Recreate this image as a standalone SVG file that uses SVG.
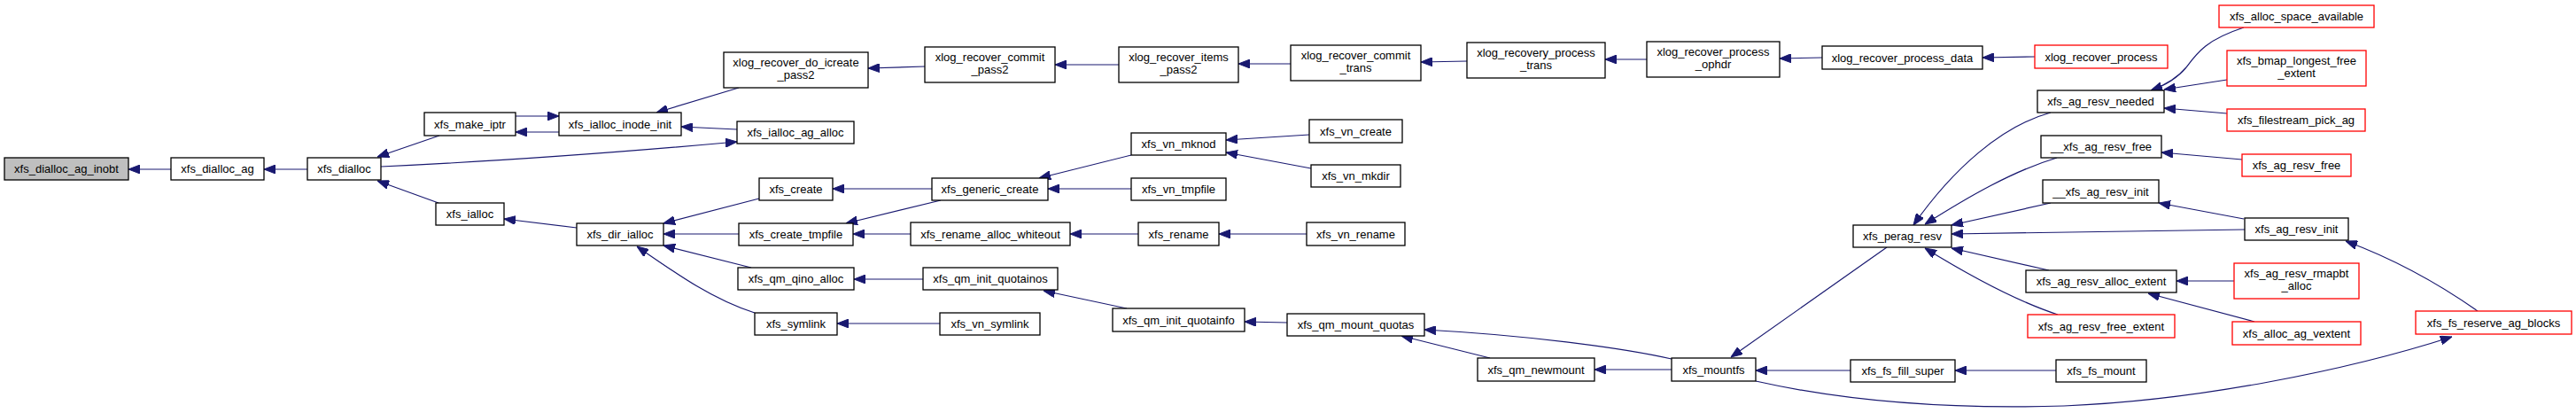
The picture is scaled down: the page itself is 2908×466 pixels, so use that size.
<svg xmlns="http://www.w3.org/2000/svg" width="2908" height="466" viewBox="0 0 2908 466">
<defs>
<marker id="ah" markerUnits="userSpaceOnUse" markerWidth="13" markerHeight="10" refX="13" refY="5" viewBox="0 0 13 10" orient="auto">
<path d="M0,0 L13,5 L0,10 z" fill="#191970" stroke="#191970" stroke-width="1"/>
</marker>
</defs>
<style>
rect{fill:#ffffff;stroke:#000000;stroke-width:1.3}
rect.r{stroke:#ff0000}
rect.g{fill:#bfbfbf}
text{font-family:"Liberation Sans",Arial,sans-serif;font-size:13px;fill:#000000;text-anchor:middle}
#edges path{fill:none;stroke:#191970;stroke-width:1.2;marker-end:url(#ah)}
</style>
<rect x="0" y="0" width="2908" height="466" style="fill:#ffffff;stroke:none"/>
<g id="edges">
<path d="M193,191 L145,191"/>
<path d="M347,191 L298,191"/>
<path d="M496,153 L426,177"/>
<path d="M430,188 C560,182 720,170 832,160"/>
<path d="M495,229 L426,204"/>
<path d="M582,131 L631,131"/>
<path d="M631,149 L582,149"/>
<path d="M834,99 L741,127"/>
<path d="M832,146 L769,143"/>
<path d="M651,257 L569,247"/>
<path d="M857,224 L749,252"/>
<path d="M834,264 L749,264"/>
<path d="M848,302 L749,277"/>
<path d="M852,353 C805,338 765,310 719,278"/>
<path d="M1044,75 L980,77"/>
<path d="M1263,73 L1191,73"/>
<path d="M1457,72 L1398,72"/>
<path d="M1656,69 L1604,70"/>
<path d="M1859,67 L1812,67"/>
<path d="M2057,65 L2009,66"/>
<path d="M2297,64 L2238,65"/>
<path d="M1052,213 L940,213"/>
<path d="M1062,226 L955,252"/>
<path d="M1028,264 L963,264"/>
<path d="M1277,175 L1173,201"/>
<path d="M1277,213 L1183,213"/>
<path d="M1478,152 L1384,158"/>
<path d="M1480,190 L1384,172"/>
<path d="M1285,264 L1208,264"/>
<path d="M1475,264 L1376,264"/>
<path d="M1042,315 L964,315"/>
<path d="M1061,365 L945,365"/>
<path d="M1272,348 L1178,328"/>
<path d="M1453,364 L1405,363"/>
<path d="M1887,405 C1830,392 1720,378 1608,372"/>
<path d="M1682,404 L1582,379"/>
<path d="M1887,417 L1800,417"/>
<path d="M2089,418 L1982,418"/>
<path d="M2321,418 L2207,418"/>
<path d="M2130,279 L1954,403"/>
<path d="M1982,430 C2080,452 2200,462 2330,458 C2480,452 2650,418 2768,380"/>
<path d="M2315,127 C2260,142 2205,190 2160,254"/>
<path d="M2322,178 C2272,193 2222,222 2173,253"/>
<path d="M2315,229 L2203,254"/>
<path d="M2534,259 L2203,264"/>
<path d="M2313,305 L2203,280"/>
<path d="M2323,355 C2280,341 2225,312 2173,280"/>
<path d="M2533,31 C2490,45 2480,60 2468,76 C2458,88 2445,96 2428,102"/>
<path d="M2514,90 L2443,101"/>
<path d="M2514,128 L2443,122"/>
<path d="M2531,180 L2440,172"/>
<path d="M2533,247 L2437,229"/>
<path d="M2797,351 C2760,325 2710,295 2648,272"/>
<path d="M2522,317 L2457,317"/>
<path d="M2545,363 L2425,331"/>
</g>
<g id="n0"><rect class="g" x="5" y="178" width="140" height="25"/><text x="75" y="195">xfs_dialloc_ag_inobt</text></g>
<g id="n1"><rect x="193" y="178" width="105" height="25"/><text x="245.5" y="195">xfs_dialloc_ag</text></g>
<g id="n2"><rect x="347" y="178" width="83" height="25"/><text x="388.5" y="195">xfs_dialloc</text></g>
<g id="n3"><rect x="479" y="127" width="103" height="26"/><text x="530.5" y="144.5">xfs_make_iptr</text></g>
<g id="n4"><rect x="631" y="127" width="138" height="26"/><text x="700" y="144.5">xfs_ialloc_inode_init</text></g>
<g id="n5"><rect x="817" y="59" width="163" height="40"/><text x="898.5" y="75">xlog_recover_do_icreate</text><text x="898.5" y="89">_pass2</text></g>
<g id="n6"><rect x="832" y="137" width="132" height="25"/><text x="898" y="154">xfs_ialloc_ag_alloc</text></g>
<g id="n7"><rect x="492" y="229" width="77" height="25"/><text x="530.5" y="246">xfs_ialloc</text></g>
<g id="n8"><rect x="651" y="252" width="98" height="25"/><text x="700" y="269">xfs_dir_ialloc</text></g>
<g id="n9"><rect x="857" y="201" width="83" height="25"/><text x="898.5" y="218">xfs_create</text></g>
<g id="n10"><rect x="834" y="252" width="129" height="25"/><text x="898.5" y="269">xfs_create_tmpfile</text></g>
<g id="n11"><rect x="833" y="302" width="131" height="25"/><text x="898.5" y="319">xfs_qm_qino_alloc</text></g>
<g id="n12"><rect x="852" y="353" width="93" height="25"/><text x="898.5" y="370">xfs_symlink</text></g>
<g id="n13"><rect x="1044" y="53" width="147" height="40"/><text x="1117.5" y="69">xlog_recover_commit</text><text x="1117.5" y="83">_pass2</text></g>
<g id="n14"><rect x="1263" y="53" width="135" height="40"/><text x="1330.5" y="69">xlog_recover_items</text><text x="1330.5" y="83">_pass2</text></g>
<g id="n15"><rect x="1457" y="51" width="147" height="40"/><text x="1530.5" y="67">xlog_recover_commit</text><text x="1530.5" y="81">_trans</text></g>
<g id="n16"><rect x="1656" y="48" width="156" height="40"/><text x="1734" y="64">xlog_recovery_process</text><text x="1734" y="78">_trans</text></g>
<g id="n17"><rect x="1859" y="47" width="150" height="40"/><text x="1934" y="63">xlog_recover_process</text><text x="1934" y="77">_ophdr</text></g>
<g id="n18"><rect x="2057" y="52" width="181" height="26"/><text x="2147.5" y="69.5">xlog_recover_process_data</text></g>
<g id="n19"><rect class="r" x="2297" y="51" width="150" height="26"/><text x="2372" y="68.5">xlog_recover_process</text></g>
<g id="n20"><rect x="1052" y="201" width="131" height="25"/><text x="1117.5" y="218">xfs_generic_create</text></g>
<g id="n21"><rect x="1277" y="150" width="107" height="25"/><text x="1330.5" y="167">xfs_vn_mknod</text></g>
<g id="n22"><rect x="1277" y="201" width="107" height="25"/><text x="1330.5" y="218">xfs_vn_tmpfile</text></g>
<g id="n23"><rect x="1478" y="135" width="105" height="26"/><text x="1530.5" y="152.5">xfs_vn_create</text></g>
<g id="n24"><rect x="1480" y="186" width="101" height="25"/><text x="1530.5" y="203">xfs_vn_mkdir</text></g>
<g id="n25"><rect x="1028" y="251" width="180" height="26"/><text x="1118" y="268.5">xfs_rename_alloc_whiteout</text></g>
<g id="n26"><rect x="1285" y="251" width="91" height="26"/><text x="1330.5" y="268.5">xfs_rename</text></g>
<g id="n27"><rect x="1475" y="251" width="111" height="26"/><text x="1530.5" y="268.5">xfs_vn_rename</text></g>
<g id="n28"><rect x="1042" y="302" width="152" height="25"/><text x="1118" y="319">xfs_qm_init_quotainos</text></g>
<g id="n29"><rect x="1061" y="353" width="113" height="25"/><text x="1117.5" y="370">xfs_vn_symlink</text></g>
<g id="n30"><rect x="1256" y="348" width="149" height="26"/><text x="1330.5" y="365.5">xfs_qm_init_quotainfo</text></g>
<g id="n31"><rect x="1453" y="354" width="155" height="25"/><text x="1530.5" y="371">xfs_qm_mount_quotas</text></g>
<g id="n32"><rect x="1668" y="404" width="132" height="26"/><text x="1734" y="421.5">xfs_qm_newmount</text></g>
<g id="n33"><rect x="1887" y="404" width="95" height="26"/><text x="1934.5" y="421.5">xfs_mountfs</text></g>
<g id="n34"><rect x="2089" y="406" width="118" height="25"/><text x="2148" y="423">xfs_fs_fill_super</text></g>
<g id="n35"><rect x="2321" y="406" width="102" height="25"/><text x="2372" y="423">xfs_fs_mount</text></g>
<g id="n36"><rect x="2092" y="254" width="111" height="25"/><text x="2147.5" y="271">xfs_perag_resv</text></g>
<g id="n37"><rect x="2300" y="102" width="143" height="25"/><text x="2371.5" y="119">xfs_ag_resv_needed</text></g>
<g id="n38"><rect x="2304" y="153" width="136" height="25"/><text x="2372" y="170">__xfs_ag_resv_free</text></g>
<g id="n39"><rect x="2306" y="203" width="131" height="26"/><text x="2371.5" y="220.5">__xfs_ag_resv_init</text></g>
<g id="n40"><rect x="2534" y="246" width="117" height="25"/><text x="2592.5" y="263">xfs_ag_resv_init</text></g>
<g id="n41"><rect x="2287" y="305" width="170" height="25"/><text x="2372" y="322">xfs_ag_resv_alloc_extent</text></g>
<g id="n42"><rect class="r" x="2289" y="355" width="166" height="26"/><text x="2372" y="372.5">xfs_ag_resv_free_extent</text></g>
<g id="n43"><rect class="r" x="2505" y="6" width="175" height="25"/><text x="2592.5" y="23">xfs_alloc_space_available</text></g>
<g id="n44"><rect class="r" x="2514" y="57" width="157" height="40"/><text x="2592.5" y="73">xfs_bmap_longest_free</text><text x="2592.5" y="87">_extent</text></g>
<g id="n45"><rect class="r" x="2514" y="123" width="156" height="25"/><text x="2592" y="140">xfs_filestream_pick_ag</text></g>
<g id="n46"><rect class="r" x="2531" y="174" width="123" height="25"/><text x="2592.5" y="191">xfs_ag_resv_free</text></g>
<g id="n47"><rect class="r" x="2522" y="297" width="141" height="40"/><text x="2592.5" y="313">xfs_ag_resv_rmapbt</text><text x="2592.5" y="327">_alloc</text></g>
<g id="n48"><rect class="r" x="2520" y="363" width="145" height="26"/><text x="2592.5" y="380.5">xfs_alloc_ag_vextent</text></g>
<g id="n49"><rect class="r" x="2727" y="351" width="176" height="26"/><text x="2815" y="368.5">xfs_fs_reserve_ag_blocks</text></g>
</svg>
